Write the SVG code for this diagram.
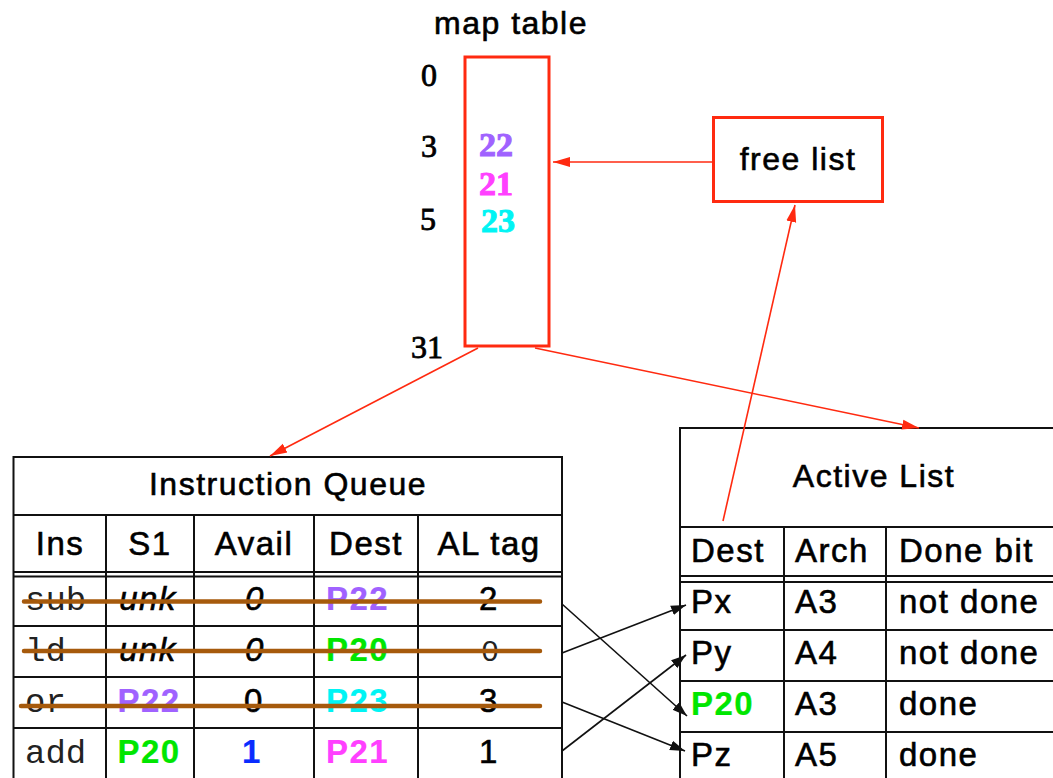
<svg xmlns="http://www.w3.org/2000/svg" width="1053" height="778" viewBox="0 0 1053 778">
  <style>
    .sans { font-family: "Liberation Sans", Arial, sans-serif; letter-spacing: 1.5px; fill: #000; stroke: #000; stroke-width: 0.6px; }
    .title { font-size: 32px; }
    .cell { font-size: 33px; }
    .mono { font-family: "Liberation Mono", "Courier New", monospace; font-size: 34px; fill: #222; }
    .serif { font-family: "Liberation Serif", "Times New Roman", serif; font-size: 32px; fill: #000; stroke: #000; stroke-width: 0.8px; }
    .num { font-family: "Liberation Serif", "Times New Roman", serif; font-size: 34px; font-weight: bold; }
    .b { font-weight: bold; stroke-width: 0.2px; }
    .it { font-style: italic; }
    .mid { text-anchor: middle; }
    .grid { stroke: #111; stroke-width: 2; fill: none; }
    .red-box { stroke: #ff2a10; stroke-width: 3; fill: #fff; }
    .red-link { stroke: #ff2a10; stroke-width: 1.6; fill: none; marker-end: url(#head-red); }
    .black-link { stroke: #111; stroke-width: 1.6; fill: none; marker-end: url(#head-black); }
    .strike { stroke: #a65a0c; stroke-width: 4.5; stroke-linecap: round; }
    .purple { fill: #a062ff; stroke: #a062ff; }
    .green { fill: #00e600; stroke: #00e600; }
    .cyan { fill: #00f4f4; stroke: #00f4f4; }
    .magenta { fill: #ff40ff; stroke: #ff40ff; }
    .blue { fill: #0a2cff; stroke: #0a2cff; }
  </style>
  <defs>
    <marker id="head-red" markerUnits="userSpaceOnUse" markerWidth="18" markerHeight="12" refX="17" refY="6" orient="auto">
      <path d="M0,1 L17,6 L0,11 Z" fill="#ff2a10"/>
    </marker>
    <marker id="head-black" markerUnits="userSpaceOnUse" markerWidth="16" markerHeight="12" refX="15" refY="6" orient="auto">
      <path d="M0,1 L15,6 L0,11 Z" fill="#111"/>
    </marker>
  </defs>

  <rect width="1053" height="778" fill="#fff"/>

  <!-- Register map table -->
  <g id="map-table">
    <text class="sans title mid" x="511" y="34">map table</text>
    <rect class="red-box" x="465" y="57" width="84" height="289"/>
    <text class="serif mid" x="429" y="86">0</text>
    <text class="serif mid" x="429" y="157">3</text>
    <text class="serif mid" x="428" y="230">5</text>
    <text class="serif mid" x="427" y="358">31</text>
    <text class="num mid purple" x="496" y="156">22</text>
    <text class="num mid magenta" x="496" y="195">21</text>
    <text class="num mid cyan" x="498" y="232">23</text>
  </g>

  <!-- Free list -->
  <g id="free-list">
    <rect class="red-box" x="713.5" y="117.5" width="169" height="84"/>
    <text class="sans title mid" x="798" y="170">free list</text>
  </g>

  <!-- Instruction queue -->
  <g id="instruction-queue">
    <rect class="grid" x="13.5" y="457" width="548.5" height="340" fill="#fff"/>
    <path class="grid" d="M13.5,515 H562 M13.5,572 H562 M13.5,576.5 H562 M13.5,626 H562 M13.5,677 H562 M13.5,728 H562"/>
    <path class="grid" d="M106,515 V800 M194,515 V800 M314,515 V800 M418,515 V800"/>
    <text class="sans title mid" x="288" y="495">Instruction Queue</text>

    <text class="sans cell mid" x="60" y="555">Ins</text>
    <text class="sans cell mid" x="150" y="555">S1</text>
    <text class="sans cell mid" x="254" y="555">Avail</text>
    <text class="sans cell mid" x="366" y="555">Dest</text>
    <text class="sans cell mid" x="489" y="555">AL tag</text>

    <!-- sub -->
    <text class="mono" x="25" y="610">sub</text>
    <text class="sans cell it mid" x="148" y="610">unk</text>
    <text class="sans cell it mid" x="255" y="610">0</text>
    <text class="sans cell b purple" x="326" y="610">P22</text>
    <text class="sans cell mid" x="489" y="610">2</text>
    <!-- ld -->
    <text class="mono" x="25" y="661">ld</text>
    <text class="sans cell it mid" x="148" y="661">unk</text>
    <text class="sans cell it mid" x="255" y="661">0</text>
    <text class="sans cell b green" x="326" y="661">P20</text>
    <text class="mono mid" x="490" y="661" style="font-size:30px">0</text>
    <!-- or -->
    <text class="mono" x="25" y="712">or</text>
    <text class="sans cell b purple mid" x="149" y="712">P22</text>
    <text class="sans cell mid" x="254" y="712">0</text>
    <text class="sans cell b cyan" x="326" y="712">P23</text>
    <text class="sans cell mid" x="489" y="712">3</text>
    <!-- add -->
    <text class="mono" x="25" y="763">add</text>
    <text class="sans cell b green mid" x="149" y="763">P20</text>
    <text class="sans cell b blue mid" x="252" y="763">1</text>
    <text class="sans cell b magenta" x="326" y="763">P21</text>
    <text class="sans cell mid" x="489" y="763">1</text>

    <!-- squashed entries -->
    <path class="strike" d="M24,601.5 H540 M24,651 H540 M21,706 H540"/>
  </g>

  <!-- Active list -->
  <g id="active-list">
    <rect class="grid" x="680" y="428" width="400" height="400" fill="#fff"/>
    <path class="grid" d="M680,527 H1080 M680,576 H1080 M680,582 H1080 M680,630 H1080 M680,681 H1080 M680,732 H1080"/>
    <path class="grid" d="M784,527 V800 M886,527 V800"/>
    <text class="sans title mid" x="874" y="487">Active List</text>

    <text class="sans cell" x="691" y="562">Dest</text>
    <text class="sans cell" x="795" y="562">Arch</text>
    <text class="sans cell" x="899" y="562">Done bit</text>

    <text class="sans cell" x="691" y="613">Px</text>
    <text class="sans cell" x="795" y="613">A3</text>
    <text class="sans cell" x="899" y="613">not done</text>

    <text class="sans cell" x="691" y="664">Py</text>
    <text class="sans cell" x="795" y="664">A4</text>
    <text class="sans cell" x="899" y="664">not done</text>

    <text class="sans cell b green" x="691" y="715">P20</text>
    <text class="sans cell" x="795" y="715">A3</text>
    <text class="sans cell" x="899" y="715">done</text>

    <text class="sans cell" x="691" y="766">Pz</text>
    <text class="sans cell" x="795" y="766">A5</text>
    <text class="sans cell" x="899" y="766">done</text>
  </g>

  <!-- Connectors -->
  <g id="connectors">
    <path class="red-link" d="M713,162 L553,162"/>
    <path class="red-link" d="M723,521 L795,205"/>
    <path class="red-link" d="M478,348 L270,456"/>
    <path class="red-link" d="M535,348 L919,428"/>

    <path class="black-link" d="M562,604 L687,716"/>
    <path class="black-link" d="M562,653 L686,605"/>
    <path class="black-link" d="M562,702 L685,751"/>
    <path class="black-link" d="M562,751 L686,655"/>
  </g>
</svg>
